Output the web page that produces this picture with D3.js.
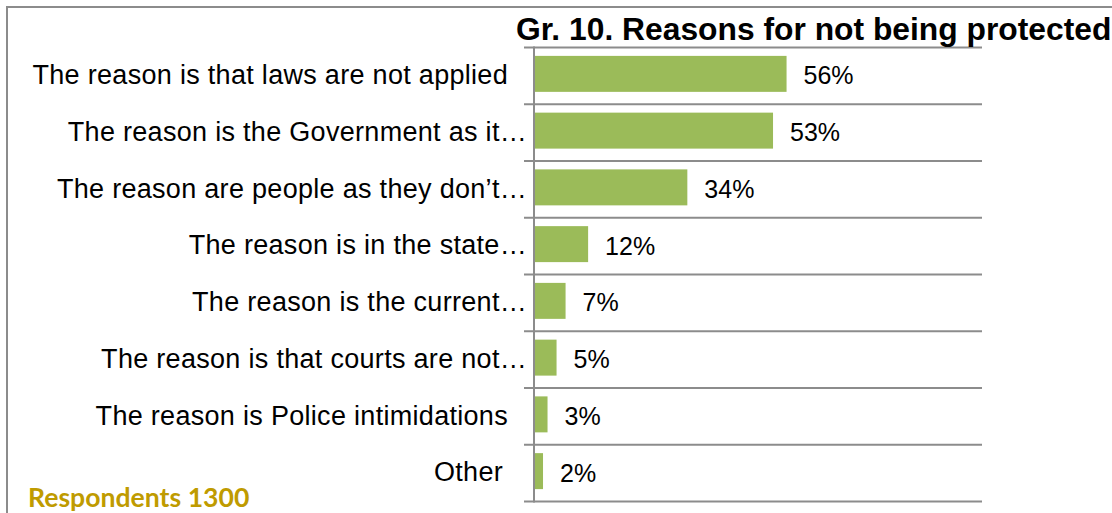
<!DOCTYPE html>
<html>
<head>
<meta charset="utf-8">
<script src="https://cdn.jsdelivr.net/npm/d3@7"></script>
<style>
  html, body { margin: 0; padding: 0; background: #fff; }
  svg { display: block; }
</style>
</head>
<body>
<svg id="chart" width="1112" height="513"></svg>
<script>
// Survey answers: reasons respondents give for not feeling protected
const categories = [
  "The reason is that laws are not applied",
  "The reason is the Government as it\u2026",
  "The reason are people as they don\u2019t\u2026",
  "The reason is in the state\u2026",
  "The reason is the current\u2026",
  "The reason is that courts are not\u2026",
  "The reason is Police intimidations",
  "Other"
];
const values = [56, 53, 34, 12, 7, 5, 3, 2];
const valueLabels = ["56%", "53%", "34%", "12%", "7%", "5%", "3%", "2%"];
const titleText = "Gr. 10. Reasons for not being protected";
const noteText = "Respondents 1300";

const svg = d3.select("#chart");
const W = 1112, H = 513;
const axisX = 534, plotRight = 985;
const plotTop = 47.5, plotBottom = 501.5;

const x = d3.scaleLinear().domain([0, 100]).range([axisX, plotRight]);
const y = d3.scaleBand().domain(categories).range([plotTop, plotBottom])
  .paddingInner(0.366).paddingOuter(0.183);

// outer frame (extends beyond the visible area on the right and bottom)
svg.append("path")
  .attr("d", `M7,${H + 5} L7,7 L${W + 5},7`)
  .attr("fill", "none").attr("stroke", "#8c8c8c").attr("stroke-width", 2);

// category separators / tick marks
const step = y.step();
const sepY = d3.range(categories.length + 1).map(i => plotTop + i * step);
svg.append("g").selectAll("line").data(sepY).join("line")
  .attr("x1", axisX - 10).attr("x2", 982)
  .attr("y1", d => d).attr("y2", d => d)
  .attr("stroke", "#8c8c8c").attr("stroke-width", 2);

// bars
svg.append("g").selectAll("rect").data(categories).join("rect")
  .attr("x", x(0))
  .attr("y", d => y(d) - 2)
  .attr("width", (d, i) => x(values[i]) - x(0))
  .attr("height", y.bandwidth())
  .attr("fill", "#9BBB59");

// value axis line
svg.append("line")
  .attr("x1", axisX).attr("x2", axisX)
  .attr("y1", plotTop - 1).attr("y2", plotBottom + 1)
  .attr("stroke", "#8c8c8c").attr("stroke-width", 2);

// value labels
svg.append("g").selectAll("text").data(categories).join("text")
  .attr("x", (d, i) => x(values[i]) + 17)
  .attr("y", d => y(d) + y.bandwidth() / 2 + 2)
  .attr("dominant-baseline", "middle")
  .attr("font-family", "Liberation Sans, Arial, sans-serif")
  .attr("font-size", 25)
  .attr("fill", "#000")
  .text((d, i) => valueLabels[i]);

// category labels
svg.append("g").selectAll("text").data(categories).join("text")
  .attr("x", d => d === "Other" ? 503 : (d.endsWith("\u2026") ? 527 : 508))
  .attr("y", d => y(d) + y.bandwidth() / 2 + 1)
  .attr("text-anchor", "end")
  .attr("dominant-baseline", "middle")
  .attr("font-family", "Liberation Sans, Arial, sans-serif")
  .attr("font-size", 27)
  .attr("letter-spacing", 0.3)
  .attr("fill", "#000")
  .text(d => d);

// title
svg.append("text")
  .attr("x", 516).attr("y", 40)
  .attr("font-family", "Liberation Sans, Arial, sans-serif")
  .attr("font-weight", "bold")
  .attr("font-size", 31.8)
  .attr("fill", "#000")
  .text(titleText);

// sample size note
svg.append("text")
  .attr("x", 28).attr("y", 507)
  .attr("font-family", "Lato, sans-serif")
  .attr("font-weight", "bold")
  .attr("font-size", 26.6)
  .attr("fill", "#BF9B00")
  .text(noteText);
</script>
</body>
</html>
